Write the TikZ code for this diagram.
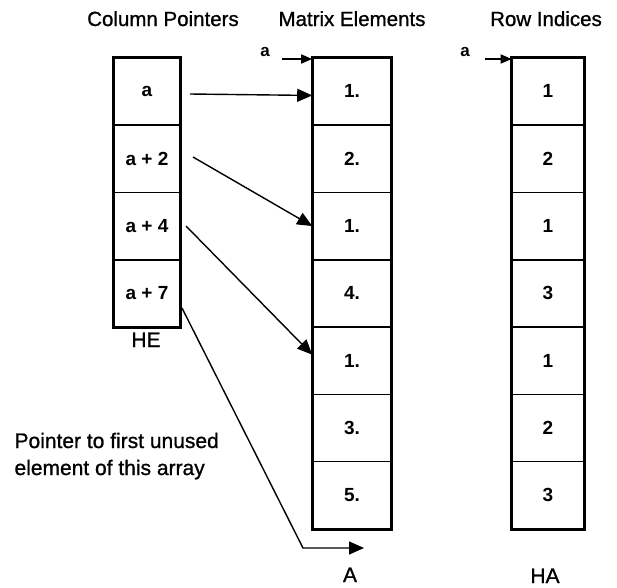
\documentclass[tikz,border=0pt]{standalone}
\usepackage{fontspec}
\setmainfont{Liberation Sans}
\newfontfamily\labelfont[FakeBold=1]{Liberation Sans}
\usetikzlibrary{arrows.meta,calc}

\tikzset{
  cell/.style={draw, line width=1.6pt, rectangle, inner sep=0pt,
    minimum height=67.3pt, font=\fontsize{19}{22}\selectfont\bfseries},
  hecell/.style={cell, minimum width=66pt},
  acell/.style={cell, minimum width=78pt},
  hacell/.style={cell, minimum width=71pt},
  arrframe/.style={draw, line width=2.6pt},
  heading/.style={font=\labelfont\fontsize{20.5}{24}\selectfont, anchor=base},
  arrlabel/.style={font=\labelfont\fontsize{21}{24}\selectfont, anchor=base},
  baselabel/.style={font=\fontsize{17}{20}\selectfont\bfseries, anchor=base},
  ptr/.style={line width=1.4pt, -{Triangle[length=15pt,width=13pt]}},
  smallptr/.style={line width=1.6pt, -{Triangle[length=11pt,width=9pt]}},
}

\begin{document}
\begin{tikzpicture}[x=1pt, y=-1pt]
  \useasboundingbox (0,0) rectangle (617,587);

  % column headings
  \node[heading] (tHE) at (163,26) {Column Pointers};
  \node[heading] (tA)  at (352,26) {Matrix Elements};
  \node[heading] (tHA) at (546,26) {Row Indices};

  % HE: column pointers
  \foreach \t [count=\i] in {a, a + 2, a + 4, a + 7}
    \node[hecell, anchor=north] (he\i) at (147, 57+67.3*\i-67.3) {\t};
  \draw[arrframe] (he1.north west) rectangle (he4.south east);
  \node[arrlabel] (lHE) at (146,347) {HE};

  % A: matrix elements
  \foreach \t [count=\i] in {1., 2., 1., 4., 1., 3., 5.}
    \node[acell, anchor=north] (a\i) at (352, 57+67.3*\i-67.3) {\t};
  \draw[arrframe] (a1.north west) rectangle (a7.south east);
  \node[arrlabel] (lA) at (350,582) {A};

  % HA: row indices
  \foreach \t [count=\i] in {1, 2, 1, 3, 1, 2, 3}
    \node[hacell, anchor=north] (ha\i) at (548, 57+67.3*\i-67.3) {\t};
  \draw[arrframe] (ha1.north west) rectangle (ha7.south east);
  \node[arrlabel] (lHA) at (545,583) {HA};

  % base address markers
  \node[baselabel] (baseA) at (265,56) {a};
  \coordinate (baseAs) at (282,59);
  \draw[smallptr] (baseAs) -- ($(a1.north west)+(0,2)$);
  \node[baselabel] (baseHA) at (465,56) {a};
  \coordinate (baseHAs) at (485,59);
  \draw[smallptr] (baseHAs) -- ($(ha1.north west)+(0,2)$);

  % column pointers into A
  \coordinate (p1) at (190,94);
  \coordinate (p2) at (193,157);
  \coordinate (p3) at (186,226);
  \coordinate (p4) at (182,308);
  \coordinate (bend) at (303,548);
  \coordinate (free) at (364,548);
  \draw[ptr] (p1) -- ($(a1.west)+(0,4)$);
  \draw[ptr] (p2) -- (a3.west);
  \draw[ptr] (p3) -- ($(a5.west)+(0,-6)$);
  \draw[ptr] (p4) -- (bend) -- (free);

  % note on the last pointer (base anchor sits on the last line)
  \node[font=\labelfont\fontsize{21}{27}\selectfont, align=left, anchor=base west] (note) at (11,475)
    {Pointer to first unused\\element of this array};
\end{tikzpicture}
\end{document}
